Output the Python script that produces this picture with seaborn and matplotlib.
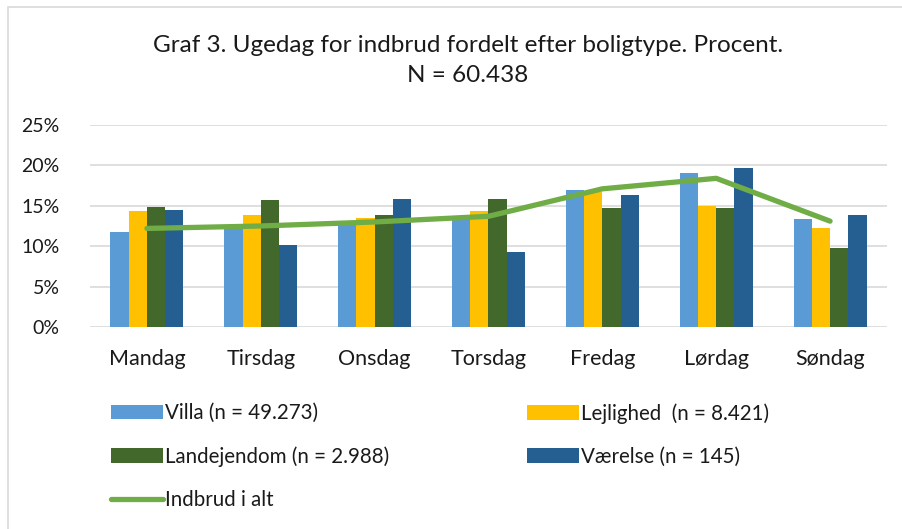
import numpy as np
import pandas as pd
import matplotlib
matplotlib.use("Agg")
import matplotlib.pyplot as plt
import seaborn as sns
from matplotlib.patches import Rectangle

days = ["Mandag", "Tirsdag", "Onsdag", "Torsdag", "Fredag", "Lørdag", "Søndag"]
villa = [11.7, 12.1, 12.9, 13.4, 17.0, 19.0, 13.4]
lejlighed = [14.3, 13.8, 13.5, 14.3, 16.7, 15.0, 12.2]
landejendom = [14.8, 15.7, 13.8, 15.8, 14.7, 14.75, 9.8]
vaerelse = [14.5, 10.1, 15.9, 9.3, 16.3, 19.7, 13.8]
total = [12.2, 12.5, 13.0, 13.7, 17.1, 18.4, 13.1]

series_names = ["Villa (n = 49.273)", "Lejlighed  (n = 8.421)",
                "Landejendom (n = 2.988)", "Værelse (n = 145)"]
total_name = "Indbrud i alt"
colors = ["#5B9BD5", "#FFC000", "#43682B", "#255E91"]
line_color = "#70AD47"
title_lines = ["Graf 3. Ugedag for indbrud fordelt efter boligtype. Procent.", "N = 60.438"]
yticks = [0, 5, 10, 15, 20, 25]

sns.set_theme(style="white")
plt.rcParams['font.family'] = ['Lato', 'DejaVu Sans']
txt = "#1a1a1a"

rows = []
for name, vals in zip(series_names, [villa, lejlighed, landejendom, vaerelse]):
    for d, v in zip(days, vals):
        rows.append({"day": d, "type": name, "value": v})
df = pd.DataFrame(rows)

fig = plt.figure(figsize=(9.03, 5.29), dpi=100)
W, H = 903, 529
ax = fig.add_axes([90 / W, 1 - 327 / H, (887 - 90) / W, (327 - 125) / H])

sns.barplot(data=df, x="day", y="value", hue="type", order=days,
            hue_order=series_names, palette=colors, width=0.64,
            saturation=1, linewidth=0, ax=ax, legend=True)
sns.lineplot(x=np.arange(len(days)), y=total, color=line_color, linewidth=3.8,
             ax=ax, label=total_name, solid_capstyle="round",
             solid_joinstyle="round", zorder=5)

ax.set_ylim(0, 25)
ax.set_xlim(-0.5, len(days) - 0.5)
ax.set_yticks(yticks)
ax.set_yticklabels([f"{t}%" for t in yticks], fontsize=14, color=txt)
ax.set_xticks(np.arange(len(days)))
ax.set_xticklabels(days, fontsize=15.5, color=txt)
ax.tick_params(axis="y", length=0, pad=22)
ax.tick_params(axis="x", length=0, pad=16)
ax.set_xlabel("")
ax.set_ylabel("")
ax.grid(axis="y", color="#D9D9D9", linewidth=1.2)
ax.set_axisbelow(True)
for s in ax.spines.values():
    s.set_visible(False)

handles, labels = ax.get_legend_handles_labels()
ax.get_legend().remove()
hmap = dict(zip(labels, handles))

leg_kw = dict(frameon=False, fontsize=14.8, handlelength=2.55, handleheight=0.7,
              handletextpad=0.08, labelspacing=1.13, labelcolor=txt,
              borderaxespad=0, borderpad=0)
col1 = [series_names[0], series_names[2], total_name]
col2 = [series_names[1], series_names[3]]
l1 = fig.legend([hmap[k] for k in col1], col1, loc="upper left",
                bbox_to_anchor=(111 / W, 1 - 403 / H), **leg_kw)
l2 = fig.legend([hmap[k] for k in col2], col2, loc="upper left",
                bbox_to_anchor=(527 / W, 1 - 403 / H), **leg_kw)

fig.text(468 / W, 1 - 45 / H, title_lines[0], ha="center", va="center",
         fontsize=17.5, color=txt)
fig.text(468 / W, 1 - 76 / H, title_lines[1], ha="center", va="center",
         fontsize=17.5, color=txt)

fig.patches.append(Rectangle((8 / W, -0.1), 1.2, 1 - 7 / H + 0.1,
                             transform=fig.transFigure, fill=False,
                             edgecolor="#D9D9D9", linewidth=1.2))

fig.savefig("out.png", dpi=100)
